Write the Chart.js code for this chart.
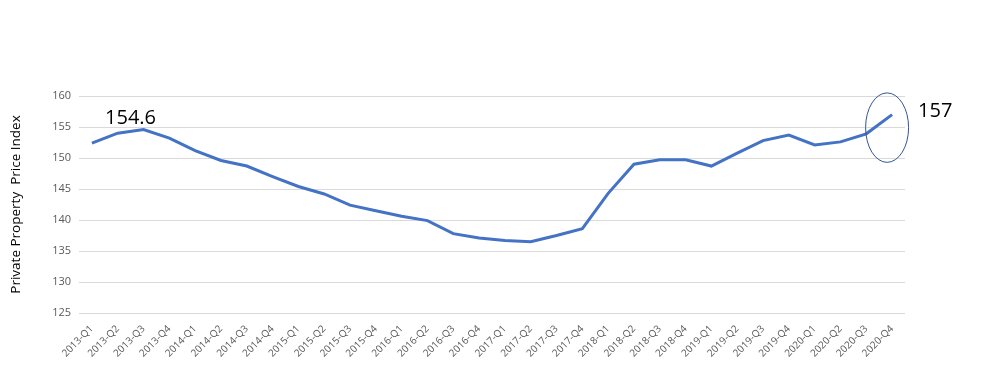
<!DOCTYPE html>
<html><head><meta charset="utf-8">
<script src="https://cdn.jsdelivr.net/npm/chart.js@4/dist/chart.umd.min.js"></script>
<style>html,body{margin:0;padding:0;background:#fff}#wrap{width:1006px;height:370px}</style>
</head><body><div id="wrap"><canvas id="c" width="1006" height="370"></canvas></div>
<script>
const categories = ["2013-Q1","2013-Q2","2013-Q3","2013-Q4","2014-Q1","2014-Q2","2014-Q3","2014-Q4","2015-Q1","2015-Q2","2015-Q3","2015-Q4","2016-Q1","2016-Q2","2016-Q3","2016-Q4","2017-Q1","2017-Q2","2017-Q3","2017-Q4","2018-Q1","2018-Q2","2018-Q3","2018-Q4","2019-Q1","2019-Q2","2019-Q3","2019-Q4","2020-Q1","2020-Q2","2020-Q3","2020-Q4"];
const priceIndex = [152.4,154.0,154.6,153.2,151.2,149.6,148.7,147.0,145.4,144.2,142.4,141.5,140.6,139.9,137.8,137.1,136.7,136.5,137.5,138.6,144.3,149.0,149.7,149.7,148.7,150.8,152.8,153.7,152.1,152.6,153.9,157.0];
const yTicks = [125,130,135,140,145,150,155,160];
const callouts = [{index:2,text:"154.6"},{index:31,text:"157"}];
const highlight = {index:31, centerValue:154.9, halfRangeValue:5.6};

const annot = {
  id:'annot',
  afterDatasetsDraw(chart){
    const ctx=chart.ctx, xs=chart.scales.x, ys=chart.scales.y;
    ctx.save();
    ctx.fillStyle='#000';
    ctx.font='20px "Open Sans", "Liberation Sans", sans-serif';
    ctx.textBaseline='middle';
    let c=callouts[0];
    ctx.textAlign='center';
    ctx.fillText(c.text, xs.getPixelForValue(c.index)-13, ys.getPixelForValue(priceIndex[c.index])-11);
    c=callouts[1];
    ctx.textAlign='left';
    ctx.fillText(c.text, xs.getPixelForValue(c.index)+26, ys.getPixelForValue(priceIndex[c.index])-3);
    const cx=xs.getPixelForValue(highlight.index)-5;
    const cy=ys.getPixelForValue(highlight.centerValue);
    const ry=Math.abs(ys.getPixelForValue(highlight.centerValue+highlight.halfRangeValue)-cy);
    ctx.beginPath();
    ctx.ellipse(cx,cy,21.5,ry,0,0,Math.PI*2);
    ctx.strokeStyle='#2F5597';
    ctx.lineWidth=1;
    ctx.stroke();
    ctx.restore();
  }
};

new Chart(document.getElementById('c'),{
  type:'line',
  data:{labels:categories,datasets:[{data:priceIndex,borderColor:'#4472C4',borderWidth:3,pointRadius:0,tension:0,fill:false}]},
  options:{
    responsive:false,animation:false,
    layout:{padding:{top:96,right:101,left:8,bottom:4}},
    plugins:{legend:{display:false},tooltip:{enabled:false}},
    scales:{
      x:{offset:true,grid:{display:false},border:{display:false},
        ticks:{color:'#595959',font:{size:10,family:'"Open Sans", "Liberation Sans", sans-serif'},maxRotation:45,minRotation:45,autoSkip:false,padding:2},
        afterFit(s){s.height=53;}},
      y:{min:125,max:160,
        afterBuildTicks(s){s.ticks=yTicks.map(v=>({value:v}));},
        grid:{color:'#d9d9d9',lineWidth:1,drawTicks:false},border:{display:false},
        ticks:{color:'#595959',font:{size:11,family:'"Open Sans", "Liberation Sans", sans-serif'},padding:8},
        title:{display:true,text:'Private Property  Price Index',color:'#000',font:{size:13.5,family:'"Open Sans", "Liberation Sans", sans-serif'},padding:{top:0,bottom:8}},
        afterFit(s){s.width=71;}}
    }
  },
  plugins:[annot]
});
</script></body></html>
